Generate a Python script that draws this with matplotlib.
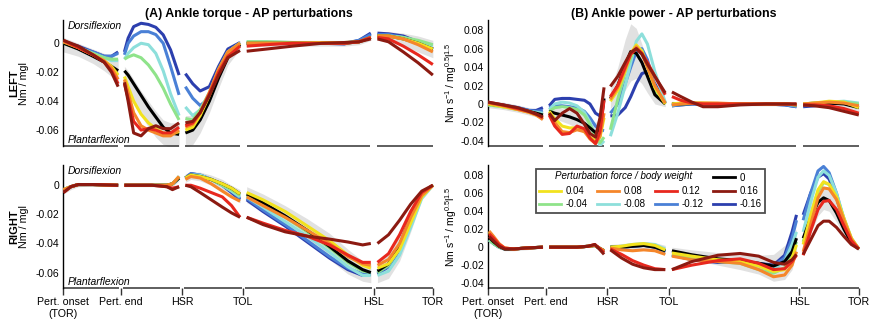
import numpy as np
import matplotlib
matplotlib.use('Agg')
import matplotlib.pyplot as plt
from matplotlib.lines import Line2D

plt.rcParams['font.family'] = ['Liberation Sans', 'DejaVu Sans']
plt.rcParams['axes.unicode_minus'] = False
plt.rcParams['mathtext.fontset'] = 'custom'
plt.rcParams['mathtext.rm'] = 'Liberation Sans'
plt.rcParams['mathtext.it'] = 'Liberation Sans:italic'

# perturbation levels (force / body weight) and their colours
levels = ['0', '0.04', '0.08', '0.12', '0.16', '-0.04', '-0.08', '-0.12', '-0.16']
colors = {'0': '#000000', '0.04': '#f2e21e', '0.08': '#f5862a', '0.12': '#e8281e',
          '0.16': '#8c1a11', '-0.04': '#8fe38a', '-0.08': '#8ddfdb',
          '-0.12': '#4a80d6', '-0.16': '#2c3fae'}
draw_order = ['-0.16', '-0.12', '-0.08', '-0.04', '0', '0.04', '0.08', '0.12', '0.16']

# gait events, % of the normalised time axis
events = [0, 15.6, 32.1, 48.7, 84, 100]
event_labels = ['Pert. onset\n(TOR)', 'Pert. end', 'HSR', 'TOL', 'HSL', 'TOR']

# ---------------- ankle torque, left leg ----------------
torque_left_x = [0, 4, 8, 11, 13, 14.8,
                 16.5, 17.5, 19, 21, 23, 25, 27, 29, 31.3,
                 33, 35, 37, 39.5, 42, 44.5, 47.8,
                 49.6, 55, 62, 70, 76, 80, 83.2,
                 85, 88, 92, 96, 100]
torque_left_seg = [6, 9, 7, 7, 5]
torque_left = {
    '0': [0.0, -0.004, -0.009, -0.013, -0.016, -0.019,
          -0.019, -0.022, -0.028, -0.036, -0.044, -0.051, -0.058, -0.062, -0.063,
          -0.062, -0.060, -0.053, -0.040, -0.024, -0.010, -0.001,
          0.0, 0.0, 0.0, 0.0, 0.0, 0.001, 0.004,
          0.005, 0.005, 0.003, 0.0, -0.004],
    '0.04': [0.001, -0.003, -0.008, -0.012, -0.016, -0.022,
             -0.023, -0.030, -0.040, -0.049, -0.055, -0.059, -0.062, -0.063, -0.061,
             -0.060, -0.058, -0.050, -0.036, -0.020, -0.007, 0.0,
             0.0, 0.0, 0.0, 0.0005, 0.0005, 0.001, 0.004,
             0.005, 0.005, 0.003, 0.0, -0.004],
    '0.08': [0.001, -0.003, -0.008, -0.012, -0.017, -0.025,
             -0.025, -0.034, -0.048, -0.057, -0.060, -0.062, -0.064, -0.064, -0.060,
             -0.058, -0.056, -0.048, -0.034, -0.018, -0.006, 0.0,
             0.0, 0.0, 0.0, 0.0, 0.0, 0.001, 0.004,
             0.005, 0.005, 0.003, -0.001, -0.006],
    '0.12': [0.002, -0.003, -0.008, -0.013, -0.019, -0.028,
             -0.028, -0.038, -0.054, -0.060, -0.059, -0.060, -0.062, -0.062, -0.058,
             -0.057, -0.055, -0.048, -0.035, -0.020, -0.009, -0.002,
             -0.002, -0.001, 0.0, 0.0, 0.0, 0.001, 0.004,
             0.004, 0.003, -0.002, -0.008, -0.0147],
    '0.16': [0.002, -0.002, -0.008, -0.013, -0.020, -0.030,
             -0.027, -0.040, -0.062, -0.064, -0.059, -0.057, -0.059, -0.059, -0.055,
             -0.055, -0.054, -0.048, -0.036, -0.022, -0.010, -0.005,
             -0.0055, -0.004, -0.002, 0.0, 0.0005, 0.001, 0.003,
             0.003, 0.001, -0.006, -0.0135, -0.022],
    '-0.04': [0.0, -0.003, -0.007, -0.010, -0.011, -0.011,
              -0.011, -0.0095, -0.008, -0.010, -0.015, -0.022, -0.031, -0.042, -0.053,
              -0.052, -0.053, -0.046, -0.034, -0.018, -0.006, 0.0,
              0.001, 0.001, 0.0005, 0.0, 0.0, 0.001, 0.004,
              0.005, 0.005, 0.004, 0.002, -0.001],
    '-0.08': [0.0, -0.003, -0.007, -0.010, -0.012, -0.012,
              -0.011, -0.007, -0.003, 0.0, -0.001, -0.007, -0.019, -0.035, -0.050,
              -0.044, -0.050, -0.046, -0.035, -0.019, -0.006, 0.0,
              0.001, 0.001, 0.0005, 0.0, 0.0, 0.001, 0.004,
              0.005, 0.005, 0.004, 0.001, -0.002],
    '-0.12': [0.001, -0.003, -0.006, -0.009, -0.009, -0.007,
              -0.008, 0.0, 0.005, 0.008, 0.008, 0.006, 0.0, -0.016, -0.0357,
              -0.030, -0.038, -0.043, -0.038, -0.022, -0.007, 0.0,
              0.0, 0.0, 0.0, 0.0, 0.0, 0.002, 0.006,
              0.006, 0.006, 0.004, 0.0, -0.004],
    '-0.16': [0.001, -0.002, -0.006, -0.009, -0.009, -0.006,
              -0.006, 0.0035, 0.0115, 0.0138, 0.013, 0.011, 0.0058, -0.0046, -0.022,
              -0.021, -0.028, -0.033, -0.030, -0.016, -0.004, 0.0005,
              0.0, 0.0, 0.0, 0.0, -0.0005, 0.002, 0.007,
              0.007, 0.0065, 0.005, 0.001, -0.004],
}
torque_left_hi = [0.004, 0.0, -0.004, -0.007, -0.009, -0.011,
                  -0.016, -0.019, -0.025, -0.033, -0.040, -0.047, -0.053, -0.055, -0.055,
                  -0.050, -0.050, -0.045, -0.032, -0.017, -0.005, 0.002,
                  0.002, 0.002, 0.002, 0.002, 0.002, 0.003, 0.006,
                  0.008, 0.008, 0.007, 0.005, 0.002]
torque_left_lo = [-0.006, -0.009, -0.014, -0.019, -0.023, -0.027,
                  -0.030, -0.034, -0.042, -0.050, -0.058, -0.065, -0.070, -0.072, -0.072,
                  -0.072, -0.070, -0.062, -0.048, -0.031, -0.015, -0.004,
                  -0.002, -0.002, -0.002, -0.002, -0.002, -0.001, 0.002,
                  0.002, 0.001, -0.002, -0.006, -0.010]

# ---------------- ankle power, left leg ----------------
power_left_x = [0, 4, 8, 11, 13, 14.8,
                16.5, 18, 20, 22, 24, 26, 27.5, 29, 30.2, 31.3,
                33, 35, 37, 38.5, 40, 41.5, 43, 45, 47.8,
                49.6, 52, 55, 58, 62, 68, 75, 80, 83.2,
                85, 88, 92, 96, 100]
power_left_seg = [6, 10, 9, 9, 5]
power_left = {
    '0': [0.0, -0.002, -0.005, -0.008, -0.010, -0.012,
          -0.008, -0.010, -0.012, -0.014, -0.017, -0.021, -0.026, -0.031, -0.028, 0.006,
          0.006, 0.020, 0.042, 0.057, 0.055, 0.045, 0.030, 0.010, 0.0,
          0.0, 0.0, 0.0005, 0.0005, 0.0, 0.0, 0.0, 0.0, -0.001,
          -0.001, 0.0, 0.001, 0.0, -0.004],
    '0.04': [0.0, -0.003, -0.006, -0.009, -0.012, -0.016,
             -0.008, -0.016, -0.024, -0.026, -0.026, -0.030, -0.036, -0.040, -0.036, -0.015,
             0.003, 0.015, 0.036, 0.055, 0.064, 0.057, 0.040, 0.018, 0.0,
             0.0, 0.001, 0.001, 0.001, 0.0005, 0.0, 0.0, 0.0005, -0.001,
             0.0, 0.001, 0.003, 0.002, -0.004],
    '0.08': [0.001, -0.002, -0.006, -0.009, -0.012, -0.017,
             -0.010, -0.020, -0.030, -0.031, -0.028, -0.030, -0.038, -0.043, -0.035, -0.010,
             0.005, 0.018, 0.038, 0.054, 0.062, 0.055, 0.040, 0.020, 0.001,
             -0.001, 0.0, 0.001, 0.001, 0.001, 0.0, 0.0, 0.0, -0.001,
             0.0, 0.001, 0.002, 0.001, -0.002],
    '0.12': [0.002, -0.001, -0.005, -0.008, -0.011, -0.015,
             -0.012, -0.024, -0.033, -0.032, -0.024, -0.027, -0.037, -0.043, -0.030, 0.004,
             0.008, 0.020, 0.040, 0.054, 0.060, 0.055, 0.045, 0.030, 0.010,
             0.008, 0.004, 0.001, 0.0, 0.0, 0.0, 0.0, 0.0, 0.0,
             -0.001, -0.001, -0.002, -0.005, -0.010],
    '0.16': [0.002, -0.001, -0.004, -0.008, -0.011, -0.014,
             -0.010, -0.018, -0.010, -0.005, -0.010, -0.022, -0.032, -0.036, -0.015, 0.018,
             0.019, 0.030, 0.045, 0.056, 0.060, 0.054, 0.043, 0.030, 0.012,
             0.013, 0.008, 0.002, -0.003, -0.003, -0.001, 0.0, 0.0, 0.0,
             -0.001, -0.002, -0.004, -0.008, -0.012],
    '-0.04': [-0.001, -0.003, -0.006, -0.008, -0.010, -0.012,
              -0.008, -0.004, -0.003, -0.004, -0.006, -0.012, -0.022, -0.036, -0.042, -0.036,
              -0.028, 0.005, 0.035, 0.050, 0.062, 0.058, 0.042, 0.015, 0.0,
              -0.001, 0.0, 0.001, 0.0005, 0.0, 0.0, 0.0, 0.0, -0.001,
              0.0, 0.001, 0.002, 0.002, 0.0],
    '-0.08': [-0.001, -0.003, -0.005, -0.008, -0.009, -0.010,
              -0.006, 0.0, 0.002, 0.001, -0.002, -0.009, -0.020, -0.035, -0.045, -0.040,
              -0.035, -0.010, 0.020, 0.045, 0.068, 0.076, 0.065, 0.035, 0.002,
              -0.001, 0.0, 0.0005, 0.0005, 0.0, 0.0, 0.0, 0.0, -0.002,
              0.0, 0.001, 0.002, 0.003, 0.001],
    '-0.12': [0.0, -0.002, -0.004, -0.007, -0.008, -0.007,
              -0.004, -0.002, -0.002, -0.003, -0.004, -0.008, -0.015, -0.024, -0.028, -0.029,
              -0.010, 0.0, 0.022, 0.040, 0.057, 0.060, 0.048, 0.020, 0.001,
              -0.002, -0.001, 0.0, 0.0, 0.0, 0.0, 0.0, -0.001, -0.003,
              -0.002, -0.001, 0.001, 0.002, -0.001],
    '-0.16': [0.001, -0.001, -0.004, -0.007, -0.007, -0.004,
              -0.002, 0.005, 0.006, 0.006, 0.005, 0.004, 0.0, -0.010, -0.013, -0.013,
              -0.013, -0.012, -0.004, 0.008, 0.022, 0.033, 0.035, 0.022, 0.001,
              -0.002, -0.001, 0.0, 0.0, 0.0, 0.0, 0.0, -0.001, -0.003,
              -0.003, -0.002, 0.0, 0.001, -0.002],
}
power_left_hi = [0.003, 0.002, -0.001, -0.004, -0.006, -0.007,
                 0.0, -0.002, -0.005, -0.007, -0.009, -0.012, -0.016, -0.020, -0.016, 0.014,
                 0.015, 0.040, 0.070, 0.087, 0.082, 0.065, 0.045, 0.022, 0.004,
                 0.003, 0.002, 0.002, 0.002, 0.002, 0.002, 0.002, 0.002, 0.001,
                 0.002, 0.003, 0.004, 0.003, 0.0]
power_left_lo = [-0.004, -0.006, -0.009, -0.012, -0.014, -0.016,
                 -0.014, -0.016, -0.019, -0.022, -0.026, -0.032, -0.039, -0.044, -0.040, -0.002,
                 -0.005, 0.004, 0.015, 0.025, 0.028, 0.022, 0.012, 0.0, -0.003,
                 -0.003, -0.002, -0.001, -0.001, -0.002, -0.002, -0.002, -0.002, -0.003,
                 -0.003, -0.003, -0.002, -0.004, -0.008]

# ---------------- ankle torque, right leg ----------------
torque_right_x = [0, 2, 4, 8, 14.8,
                  16.5, 20, 24, 28, 29.5, 31.3,
                  33, 34.5, 37, 40, 43, 45.5, 47.8,
                  49.6, 54, 60, 66, 72, 77, 81, 83.2,
                  85, 88, 91, 94, 97, 100]
torque_right_seg = [5, 6, 7, 8, 6]
torque_right = {
    '0': [-0.004, -0.001, 0.0005, 0.0005, 0.0,
          0.0, 0.0, 0.0, 0.0, 0.001, 0.005,
          0.005, 0.007, 0.006, 0.004, 0.001, -0.002, -0.006,
          -0.006, -0.012, -0.021, -0.031, -0.042, -0.052, -0.058, -0.060,
          -0.059, -0.054, -0.041, -0.022, -0.006, 0.0],
    '0.04': [-0.003, -0.001, 0.0005, 0.0005, 0.0,
             0.0, 0.0, 0.0, 0.0, 0.001, 0.006,
             0.005, 0.007, 0.006, 0.004, 0.001, -0.002, -0.006,
             -0.005, -0.010, -0.018, -0.028, -0.038, -0.048, -0.055, -0.057,
             -0.057, -0.054, -0.044, -0.026, -0.008, 0.0],
    '0.08': [-0.003, -0.001, 0.0005, 0.0005, 0.0,
             0.0, 0.0, 0.0, 0.0, 0.001, 0.006,
             0.004, 0.006, 0.005, 0.001, -0.004, -0.008, -0.011,
             -0.008, -0.014, -0.022, -0.031, -0.040, -0.049, -0.054, -0.055,
             -0.055, -0.051, -0.040, -0.022, -0.007, 0.0],
    '0.12': [-0.005, -0.001, 0.0005, 0.0005, 0.0,
             0.0, 0.0, 0.0, -0.001, -0.002, -0.001,
             0.0, 0.0, -0.002, -0.005, -0.008, -0.014, -0.022,
             -0.022, -0.026, -0.031, -0.035, -0.041, -0.048, -0.053, -0.053,
             -0.053, -0.047, -0.034, -0.018, -0.005, 0.0],
    '0.16': [-0.005, -0.001, 0.0005, 0.0005, 0.0,
             0.0, 0.0, 0.0, -0.001, -0.003, -0.001,
             0.0, -0.001, -0.005, -0.010, -0.015, -0.019, -0.022,
             -0.022, -0.027, -0.032, -0.035, -0.037, -0.039, -0.041, -0.040,
             -0.040, -0.034, -0.024, -0.013, -0.004, 0.0],
    '-0.04': [-0.003, -0.001, 0.0005, 0.0005, 0.0,
              0.0, 0.0, 0.0, 0.0, 0.001, 0.005,
              0.005, 0.007, 0.006, 0.004, 0.0, -0.003, -0.007,
              -0.007, -0.013, -0.022, -0.032, -0.043, -0.053, -0.059, -0.060,
              -0.060, -0.055, -0.043, -0.024, -0.007, 0.0],
    '-0.08': [-0.003, -0.001, 0.0005, 0.0005, 0.0,
              0.0, 0.0, 0.0, 0.0, 0.001, 0.006,
              0.005, 0.007, 0.007, 0.004, 0.0, -0.004, -0.008,
              -0.008, -0.015, -0.025, -0.035, -0.046, -0.056, -0.062, -0.062,
              -0.062, -0.059, -0.048, -0.029, -0.009, 0.0],
    '-0.12': [-0.003, -0.001, 0.0005, 0.0005, 0.0,
              0.0, 0.0, 0.0, 0.0, 0.001, 0.006,
              0.005, 0.008, 0.007, 0.004, 0.0, -0.004, -0.009,
              -0.009, -0.017, -0.027, -0.038, -0.049, -0.057, -0.061, -0.060,
              -0.060, -0.056, -0.044, -0.024, -0.006, 0.0],
    '-0.16': [-0.003, -0.001, 0.0005, 0.0005, 0.0,
              0.0, 0.0, 0.0, 0.0, 0.001, 0.005,
              0.005, 0.008, 0.007, 0.004, 0.0, -0.005, -0.010,
              -0.010, -0.018, -0.028, -0.039, -0.050, -0.058, -0.062, -0.061,
              -0.061, -0.056, -0.044, -0.024, -0.006, 0.0],
}
torque_right_hi = [-0.002, 0.001, 0.002, 0.0015, 0.001,
                   0.001, 0.001, 0.001, 0.001, 0.002, 0.007,
                   0.008, 0.009, 0.009, 0.007, 0.004, 0.0, -0.003,
                   -0.001, -0.006, -0.014, -0.023, -0.033, -0.044, -0.052, -0.054,
                   -0.053, -0.047, -0.034, -0.016, -0.003, 0.001]
torque_right_lo = [-0.006, -0.003, -0.001, -0.0005, -0.001,
                   -0.001, -0.001, -0.001, -0.001, -0.001, 0.003,
                   0.002, 0.004, 0.003, 0.0, -0.004, -0.008, -0.012,
                   -0.012, -0.018, -0.028, -0.039, -0.051, -0.061, -0.066, -0.067,
                   -0.067, -0.064, -0.052, -0.032, -0.010, -0.001]

# ---------------- ankle power, right leg ----------------
power_right_x = [0.3, 1.5, 3, 4.5, 7, 10, 14.8,
                 16.5, 20, 24, 27, 28.8, 30, 31.3,
                 33, 36, 39, 42, 45, 47.8,
                 49.6, 55, 62, 68, 73, 77, 80, 82, 83.2,
                 85, 87, 89, 90.5, 92, 94, 96, 98, 100]
power_right_seg = [7, 7, 6, 9, 9]
power_right = {
    '0': [0.011, 0.006, 0.001, -0.002, -0.002, -0.001, 0.0,
          0.0, 0.0, 0.0, 0.001, 0.002, -0.001, -0.004,
          0.0, 0.0, 0.001, 0.002, 0.0, -0.004,
          -0.004, -0.0085, -0.013, -0.015, -0.018, -0.021, -0.016, -0.005, 0.010,
          0.010, 0.032, 0.050, 0.055, 0.052, 0.038, 0.020, 0.005, -0.002],
    '0.04': [0.017, 0.011, 0.003, -0.001, -0.002, -0.001, 0.0,
             0.0, 0.0, 0.0, 0.001, 0.002, -0.001, -0.004,
             0.0, 0.001, 0.003, 0.004, 0.002, -0.003,
             -0.0065, -0.010, -0.014, -0.016, -0.021, -0.027, -0.025, -0.012, 0.0026,
             0.003, 0.035, 0.064, 0.073, 0.070, 0.056, 0.032, 0.010, -0.002],
    '0.08': [0.018, 0.012, 0.004, -0.001, -0.002, -0.001, 0.0,
             0.0, 0.0, 0.0, 0.001, 0.002, -0.001, -0.004,
             -0.001, -0.003, -0.004, -0.003, -0.004, -0.008,
             -0.010, -0.014, -0.016, -0.018, -0.025, -0.033, -0.031, -0.020, -0.005,
             -0.005, 0.025, 0.055, 0.066, 0.065, 0.053, 0.030, 0.009, -0.002],
    '0.12': [0.015, 0.010, 0.003, -0.001, -0.002, -0.001, 0.0,
             0.0, 0.0, 0.0, 0.001, 0.003, -0.001, -0.006,
             -0.002, -0.008, -0.015, -0.020, -0.024, -0.025,
             -0.025, -0.020, -0.015, -0.013, -0.018, -0.025, -0.024, -0.016, -0.009,
             -0.009, 0.018, 0.042, 0.051, 0.052, 0.042, 0.024, 0.007, -0.002],
    '0.16': [0.012, 0.007, 0.001, -0.002, -0.002, -0.001, 0.0,
             0.0, 0.0, 0.0, 0.001, 0.003, -0.002, -0.008,
             -0.003, -0.012, -0.019, -0.023, -0.025, -0.025,
             -0.025, -0.016, -0.009, -0.007, -0.010, -0.017, -0.019, -0.014, -0.008,
             -0.008, 0.008, 0.024, 0.029, 0.029, 0.022, 0.012, 0.003, -0.002],
    '-0.04': [0.008, 0.004, 0.0, -0.002, -0.002, -0.001, 0.0,
              0.0, 0.0, 0.0, 0.001, 0.002, -0.001, -0.004,
              0.0, 0.0, 0.002, 0.003, 0.001, -0.004,
              -0.0085, -0.012, -0.016, -0.018, -0.025, -0.029, -0.023, -0.008, 0.006,
              0.006, 0.035, 0.062, 0.072, 0.070, 0.056, 0.032, 0.010, -0.002],
    '-0.08': [0.008, 0.004, 0.0, -0.002, -0.002, -0.001, 0.0,
              0.0, 0.0, 0.0, 0.001, 0.002, -0.001, -0.004,
              0.0, 0.001, 0.003, 0.004, 0.003, -0.002,
              -0.0085, -0.012, -0.015, -0.017, -0.021, -0.025, -0.016, 0.003, 0.017,
              0.017, 0.050, 0.078, 0.085, 0.080, 0.060, 0.032, 0.009, -0.002],
    '-0.12': [0.008, 0.004, 0.0, -0.002, -0.002, -0.001, 0.0,
              0.0, 0.0, 0.0, 0.001, 0.002, -0.001, -0.004,
              0.0, 0.0, 0.001, 0.002, 0.001, -0.005,
              -0.0085, -0.013, -0.016, -0.017, -0.019, -0.021, -0.012, 0.010, 0.030,
              0.030, 0.060, 0.085, 0.090, 0.083, 0.060, 0.030, 0.008, -0.002],
    '-0.16': [0.008, 0.004, 0.0, -0.002, -0.002, -0.001, 0.0,
              0.0, 0.0, 0.0, 0.001, 0.002, -0.001, -0.004,
              0.0, 0.0, 0.001, 0.002, 0.0, -0.005,
              -0.009, -0.014, -0.017, -0.017, -0.018, -0.020, -0.009, 0.017, 0.036,
              0.036, 0.060, 0.078, 0.082, 0.076, 0.055, 0.028, 0.007, -0.002],
}
power_right_hi = [0.016, 0.010, 0.004, 0.0, 0.0, 0.001, 0.001,
                  0.001, 0.001, 0.001, 0.002, 0.004, 0.001, -0.002,
                  0.003, 0.004, 0.005, 0.006, 0.005, 0.002,
                  0.0, -0.003, -0.006, -0.008, -0.009, -0.008, 0.002, 0.012, 0.020,
                  0.025, 0.050, 0.065, 0.068, 0.066, 0.052, 0.030, 0.009, 0.0]
power_right_lo = [0.006, 0.002, -0.002, -0.004, -0.004, -0.003, -0.001,
                  -0.001, -0.001, -0.001, 0.0, 0.0, -0.004, -0.006,
                  -0.003, -0.003, -0.002, -0.002, -0.004, -0.008,
                  -0.010, -0.014, -0.020, -0.025, -0.030, -0.038, -0.036, -0.025, -0.005,
                  -0.005, 0.015, 0.035, 0.042, 0.040, 0.028, 0.012, 0.002, -0.004]


def draw_panel(ax, x, seg, series, lo, hi, gap):
    cut = np.cumsum(seg)[:-1]
    xs = np.split(np.array(x, dtype=float), cut)
    for xx, a, b in zip(xs, np.split(np.array(lo), cut), np.split(np.array(hi), cut)):
        ax.fill_between(xx, a, b, color='#e1e1e1', lw=0, zorder=1)
    for lev in draw_order:
        y = np.array(series[lev], dtype=float)
        assert len(y) == len(x), lev
        for xx, yy in zip(xs, np.split(y, cut)):
            ax.plot(xx, yy, color=colors[lev], lw=2.2, solid_capstyle='butt',
                    solid_joinstyle='round', zorder=3)
    # x axis drawn as pieces broken at the gait events
    trans = ax.get_xaxis_transform()
    for i in range(len(events) - 1):
        a = events[i] + (gap if i > 0 else 0)
        b = events[i + 1] - (gap if i < len(events) - 2 else 0)
        ax.plot([a, b], [0, 0], color='#333333', lw=1.1, transform=trans,
                clip_on=False, solid_capstyle='butt')
    ax.set_xlim(0, 100.3)
    for s in ['top', 'right', 'bottom']:
        ax.spines[s].set_visible(False)
    ax.spines['left'].set_linewidth(1.0)
    ax.tick_params(axis='y', length=0, pad=3, labelsize=7.5)


fig = plt.figure(figsize=(8.73, 3.22), dpi=100)
ax_tl = fig.add_axes([0.0727, 0.5466, 0.4244, 0.391])
ax_tr = fig.add_axes([0.559, 0.5466, 0.426, 0.391])
ax_bl = fig.add_axes([0.0727, 0.107, 0.4244, 0.380])
ax_br = fig.add_axes([0.559, 0.107, 0.426, 0.380])

draw_panel(ax_tl, torque_left_x, torque_left_seg, torque_left, torque_left_lo, torque_left_hi, 0.9)
draw_panel(ax_tr, power_left_x, power_left_seg, power_left, power_left_lo, power_left_hi, 0.9)
draw_panel(ax_bl, torque_right_x, torque_right_seg, torque_right, torque_right_lo, torque_right_hi, 0.5)
draw_panel(ax_br, power_right_x, power_right_seg, power_right, power_right_lo, power_right_hi, 0.5)

torque_ticks = [0, -0.02, -0.04, -0.06]
power_ticks = [-0.04, -0.02, 0, 0.02, 0.04, 0.06, 0.08]
for ax in (ax_tl, ax_bl):
    ax.set_yticks(torque_ticks, ['0', '-0.02', '-0.04', '-0.06'])
    ax.set_ylabel('Nm / mgl', fontsize=7.7)
    ax.yaxis.set_label_coords(-0.093, 0.5)
    ax.text(0.012, 0.995, 'Dorsiflexion', transform=ax.transAxes, style='italic',
            fontsize=7.5, va='top', ha='left')
    ax.text(0.012, 0.004, 'Plantarflexion', transform=ax.transAxes, style='italic',
            fontsize=7.5, va='bottom', ha='left')
for ax in (ax_tr, ax_br):
    ax.set_yticks(power_ticks, ['-0.04', '-0.02', '0', '0.02', '0.04', '0.06', '0.08'])
    ax.set_ylabel(r'Nm s$^{-1}$ / mg$^{0.5}$l$^{1.5}$', fontsize=7.5)
    ax.yaxis.set_label_coords(-0.077, 0.5)

ax_tl.set_ylim(-0.071, 0.016)
ax_bl.set_ylim(-0.0703, 0.0138)
ax_tr.set_ylim(-0.0456, 0.091)
ax_br.set_ylim(-0.045, 0.0914)

for ax in (ax_tl, ax_tr):
    ax.set_xticks([])
for ax in (ax_bl, ax_br):
    ax.set_xticks(events, event_labels)
    ax.tick_params(axis='x', length=5, width=1.0, direction='out', pad=1.5,
                   labelsize=7.7, color='#333333')
    for lab in ax.get_xticklabels():
        lab.set_linespacing(1.25)

ax_tl.text(-0.134, 0.5, 'LEFT', transform=ax_tl.transAxes, rotation=90,
           fontweight='bold', fontsize=8, va='center', ha='center')
ax_bl.text(-0.134, 0.5, 'RIGHT', transform=ax_bl.transAxes, rotation=90,
           fontweight='bold', fontsize=8, va='center', ha='center')

ax_tl.set_title('(A) Ankle torque - AP perturbations', fontsize=8.9, fontweight='bold', pad=1)
ax_tr.set_title('(B) Ankle power - AP perturbations', fontsize=8.9, fontweight='bold', pad=1)

# legend: first row holds the title in columns 1-3 and the "0" entry in column 4
blank = Line2D([], [], linestyle='none')
handles = [blank, Line2D([], [], color=colors['0.04'], lw=2), Line2D([], [], color=colors['-0.04'], lw=2),
           blank, Line2D([], [], color=colors['0.08'], lw=2), Line2D([], [], color=colors['-0.08'], lw=2),
           blank, Line2D([], [], color=colors['0.12'], lw=2), Line2D([], [], color=colors['-0.12'], lw=2),
           Line2D([], [], color=colors['0'], lw=2), Line2D([], [], color=colors['0.16'], lw=2),
           Line2D([], [], color=colors['-0.16'], lw=2)]
labels = ['', '0.04', '-0.04', '', '0.08', '-0.08', '', '0.12', '-0.12', '0', '0.16', '-0.16']
leg = ax_br.legend(handles, labels, ncol=4, loc='upper left', bbox_to_anchor=(0.129, 0.967),
                   fontsize=7, handlelength=2.2, handletextpad=0.5, columnspacing=1.0,
                   labelspacing=0.35, borderpad=0.35, frameon=True, fancybox=False,
                   borderaxespad=0)
leg.get_frame().set_edgecolor('#222222')
leg.get_frame().set_linewidth(1.3)
ax_br.text(0.18, 0.913, 'Perturbation force / body weight', transform=ax_br.transAxes,
           style='italic', fontsize=7, va='center', ha='left', zorder=10)

fig.savefig('out.png', dpi=100)
